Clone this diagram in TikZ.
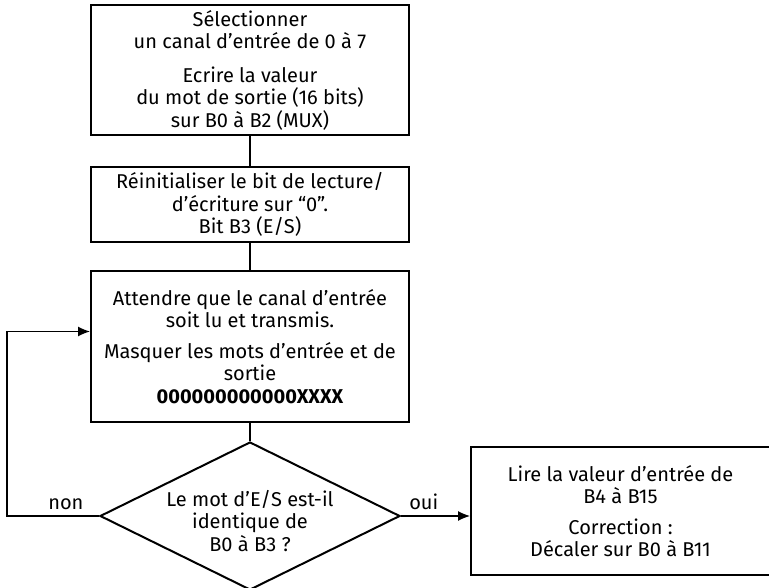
\documentclass[tikz,border=0pt]{standalone}
\usepackage{fontspec}
\setmainfont{Fira Sans}
\usetikzlibrary{positioning, shapes.geometric, arrows.meta}
\tikzset{
x=1pt, y=1pt,
node distance=30pt, % gap between the steps of the chart
txt/.style={font=\fontsize{20}{22.5}\selectfont, align=center}, % text of all steps
box/.style={txt, draw, line width=2pt, minimum width=318pt, inner sep=0pt}, % a plain step
decision/.style={diamond, draw, line width=2pt, minimum width=300pt, minimum height=148pt, inner sep=0pt}, % the test, text is set on top of it
link/.style={line width=1.2pt}, % plain joining line
flow/.style={link, -{Latex[length=12pt,width=10pt]}}, % line that ends with an arrow
}

\begin{document}
\begin{tikzpicture}
       \useasboundingbox (0,0) rectangle (769,587);

       \node[box, minimum height=130pt] (SEL) at (250,517)
            {Sélectionner\\un canal d’entrée de 0 à 7\\[11pt]
             Ecrire la valeur\\du mot de sortie (16 bits)\\sur B0 à B2 (MUX)};
       \node[box, minimum height=75pt, below=30pt of SEL] (RAZ)
            {Réinitialiser le bit de lecture/\\d’écriture sur “0”.\\Bit B3 (E/S)};
       \node[box, minimum height=151pt, below=27pt of RAZ] (WAIT)
            {Attendre que le canal d’entrée\\soit lu et transmis.\\[8pt]
             Masquer les mots d’entrée et de\\sortie\\\textbf{000000000000XXXX}};
       \node[decision, below=18pt of WAIT] (TEST) {};
       \node[txt] (TESTQ) at ([yshift=-5pt]TEST.center)
            {Le mot d’E/S est-il\\identique de\\B0 à B3 ?};
       \node[box, minimum width=299pt, minimum height=128pt, right=69pt of TEST, yshift=5pt] (READ)
            {Lire la valeur d’entrée de\\B4 à B15\\[8pt]Correction :\\Décaler sur B0 à B11};
       \coordinate (BACK) at ([xshift=-92pt]TEST.west);

       \draw[link] (SEL) -- (RAZ);
       \draw[link] (RAZ) -- (WAIT);
       \draw[link] (WAIT) -- (TEST);
       \draw[flow] (TEST.west) -- node[txt, pos=.36, above=2pt]{non} (BACK)
             |- ([yshift=15pt]WAIT.west);
       \draw[flow] (TEST.east) -- node[txt, pos=.33, above=2pt]{oui} (TEST.east -| READ.west);
\end{tikzpicture}
\end{document}
